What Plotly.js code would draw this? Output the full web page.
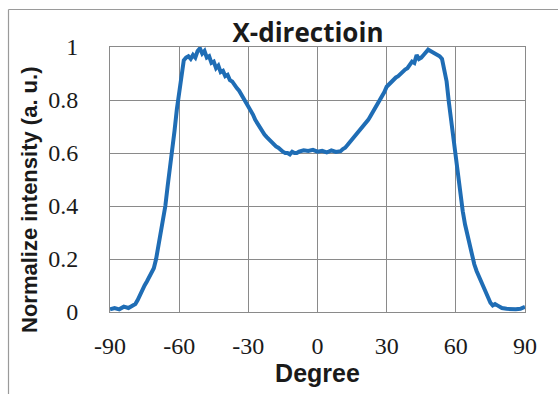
<!DOCTYPE html>
<html>
<head>
<meta charset="utf-8">
<script src="https://cdn.plot.ly/plotly-3.0.1.min.js"></script>
<style>
  html, body { margin: 0; padding: 0; background: #ffffff; }
  #chart { width: 558px; height: 394px; }
</style>
</head>
<body>
<div id="chart"></div>
<script>
// Angular intensity profile along the X direction (normalized)
const degree = [
  -90, -88, -86, -84, -82, -80, -79, -78, -77, -76, -75, -74, -73, -72, -71,
  -70, -69, -68, -67, -66, -65, -64, -63, -62, -61, -60, -59, -58, -57, -56,
  -55, -54, -53, -52, -51, -50, -49, -48, -47, -46, -45, -44, -43, -42, -41,
  -40, -39, -38, -37, -36, -35, -34, -33, -32, -31, -30, -29, -28, -27, -26,
  -25, -24, -23, -22, -21, -20, -19, -18, -17, -16, -15, -14, -13, -12, -11,
  -10, -9, -8, -6, -4, -2, 0, 2, 4, 6, 8, 10, 11, 12, 13,
  14, 15, 16, 17, 18, 19, 20, 21, 22, 23, 24, 25, 26, 27, 28,
  29, 30, 31, 32, 33, 34, 35, 36, 37, 38, 39, 40, 41, 42, 43,
  44, 45, 46, 47, 48, 49, 50, 51, 52, 53, 54, 55, 56, 57, 58,
  59, 60, 61, 62, 63, 64, 65, 66, 67, 68, 69, 70, 71, 72, 73,
  74, 75, 76, 77, 78, 79, 80, 82, 84, 86, 88, 89, 90
];

const intensity = [
  0.010, 0.015, 0.010, 0.020, 0.015, 0.025, 0.030, 0.045, 0.065, 0.085, 0.100, 0.115, 0.130, 0.145, 0.165,
  0.200, 0.250, 0.300, 0.345, 0.400, 0.475, 0.540, 0.610, 0.685, 0.765, 0.830, 0.910, 0.950, 0.960, 0.965,
  0.955, 0.970, 0.960, 0.985, 0.995, 0.975, 0.985, 0.960, 0.965, 0.940, 0.945, 0.920, 0.930, 0.905, 0.910,
  0.890, 0.895, 0.875, 0.870, 0.855, 0.845, 0.835, 0.820, 0.810, 0.790, 0.775, 0.760, 0.745, 0.725, 0.710,
  0.695, 0.685, 0.670, 0.660, 0.650, 0.640, 0.635, 0.625, 0.620, 0.610, 0.605, 0.600, 0.600, 0.595, 0.605,
  0.600, 0.600, 0.605, 0.610, 0.608, 0.612, 0.605, 0.608, 0.602, 0.610, 0.604, 0.607, 0.615, 0.620, 0.630,
  0.640, 0.650, 0.665, 0.675, 0.680, 0.690, 0.705, 0.715, 0.725, 0.740, 0.755, 0.770, 0.785, 0.795, 0.810,
  0.830, 0.850, 0.860, 0.870, 0.880, 0.885, 0.890, 0.900, 0.905, 0.915, 0.920, 0.935, 0.945, 0.940, 0.970,
  0.955, 0.960, 0.970, 0.980, 0.990, 0.985, 0.980, 0.975, 0.970, 0.965, 0.955, 0.910, 0.870, 0.790, 0.720,
  0.650, 0.580, 0.510, 0.440, 0.380, 0.330, 0.290, 0.245, 0.205, 0.180, 0.155, 0.135, 0.120, 0.100, 0.080,
  0.060, 0.035, 0.025, 0.030, 0.025, 0.020, 0.015, 0.012, 0.010, 0.010, 0.012, 0.018, 0.020
];

const xTicks = [-90, -60, -30, 0, 30, 60, 90];
const yTicks = [0, 0.2, 0.4, 0.6, 0.8, 1];
const yTickText = ['0', '0.2', '0.4', '0.6', '0.8', '1'];

const chartTitle = 'X-directioin';
const xLabel = 'Degree';
const yLabel = 'Normalize intensity (a. u.)';

const W = 558, H = 394;
const M = { l: 110, r: 33, t: 47, b: 82 };
const plotW = W - M.l - M.r;
const plotH = H - M.t - M.b;
// pixel -> paper coordinate helpers for frame and labels placed outside the plot
const px = v => (v - M.l) / plotW;
const py = v => (H - M.b - v) / plotH;

const gridColor = '#8a8a8a';
const textColor = '#1a1a1a';
const tickFont = { family: 'Liberation Serif, Times New Roman, serif', size: 24, color: textColor };
const labelFont = { family: 'Liberation Sans, Arial, sans-serif', size: 22, color: textColor };

const trace = {
  x: degree,
  y: intensity,
  type: 'scatter',
  mode: 'lines',
  line: { color: '#1f6db5', width: 4, shape: 'linear' },
  hoverinfo: 'skip'
};

const layout = {
  width: W,
  height: H,
  margin: M,
  paper_bgcolor: '#ffffff',
  plot_bgcolor: '#ffffff',
  showlegend: false,
  title: {
    text: '<b>' + chartTitle + '</b>',
    font: { family: 'Open Sans, Liberation Sans, sans-serif', size: 26, color: textColor },
    x: 308 / W,
    xanchor: 'center',
    y: 1 - 33 / H,
    yanchor: 'middle'
  },
  xaxis: {
    range: [-90, 90],
    tickvals: xTicks,
    ticktext: xTicks.map(String),
    tickfont: tickFont,
    ticks: '',
    ticklabelstandoff: 12,
    showgrid: true,
    gridcolor: gridColor,
    gridwidth: 1,
    zeroline: true,
    zerolinecolor: gridColor,
    zerolinewidth: 1,
    showline: true,
    linecolor: gridColor,
    linewidth: 1,
    mirror: true,
    fixedrange: true,
    title: { text: '<b>' + xLabel + '</b>', font: { ...labelFont, size: 25 }, standoff: 6 }
  },
  yaxis: {
    range: [0, 1],
    tickvals: yTicks,
    ticktext: yTickText,
    tickfont: tickFont,
    ticks: '',
    ticklabelstandoff: 26,
    showgrid: true,
    gridcolor: gridColor,
    gridwidth: 1,
    zeroline: false,
    showline: true,
    linecolor: gridColor,
    linewidth: 1,
    mirror: true,
    fixedrange: true
  },
  annotations: [
    {
      text: '<b>' + yLabel + '</b>',
      xref: 'paper', yref: 'paper',
      x: px(29), y: py(200),
      xanchor: 'center', yanchor: 'middle',
      textangle: -90,
      showarrow: false,
      font: labelFont
    }
  ],
  shapes: [
    // outer chart frame (left and top edges)
    { type: 'line', xref: 'paper', yref: 'paper', x0: px(8.5), x1: px(8.5), y0: py(9.5), y1: py(H + 2),
      line: { color: '#9a9a9a', width: 1.2 } },
    { type: 'line', xref: 'paper', yref: 'paper', x0: px(8.5), x1: px(W + 2), y0: py(9.5), y1: py(9.5),
      line: { color: '#9a9a9a', width: 1.2 } }
  ]
};

Plotly.newPlot('chart', [trace], layout, { staticPlot: true, displayModeBar: false });
</script>
</body>
</html>
